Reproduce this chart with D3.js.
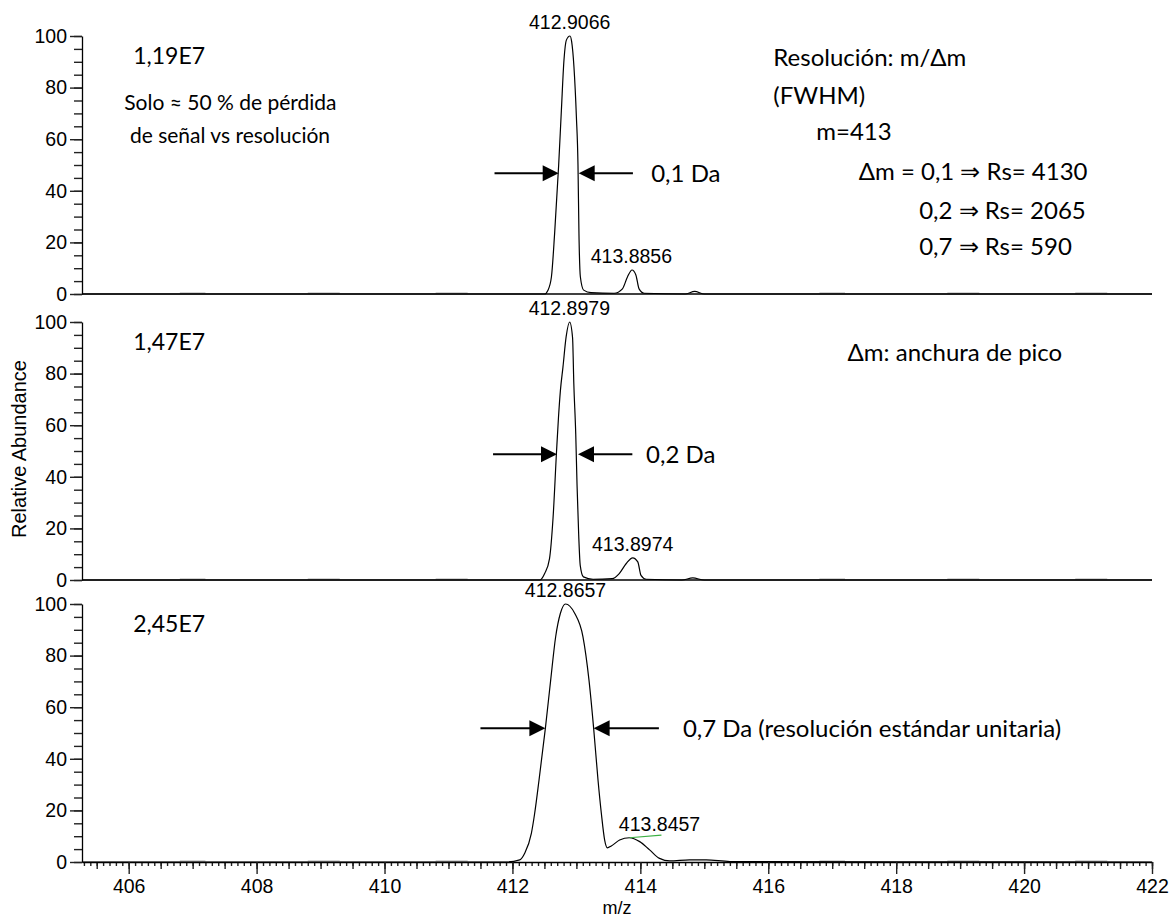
<!DOCTYPE html>
<html lang="es">
<head>
<meta charset="UTF-8">
<title>Resolución y anchura de pico</title>
<script src="https://d3js.org/d3.v7.min.js"></script>
<style>
    body { margin: 0; background: #fff; }
    svg { display: block; font-family: 'Liberation Sans', Arial, sans-serif; }
    .tick text { font-size: 19.5px; fill: #000; }
    .tick line { stroke: #222; stroke-width: 1.4; }
    .domain { stroke: #000; stroke-width: 1.3; }
    .note { font-family: Lato, 'Open Sans', sans-serif; fill: #000; }
    .peak-label { font-size: 19.5px; fill: #000; }
</style>
</head>
<body>
<div id="chart"></div>
<script>
// eje m/z
const mzDomain = [405.27, 422];
const mzTicks = [406, 408, 410, 412, 414, 416, 418, 420, 422];
const abundTicks = [0, 20, 40, 60, 80, 100];

const mzP1 = [405.27, 412.50, 412.556, 412.61, 412.66, 412.723, 412.765, 412.806, 412.843, 412.90, 412.926, 412.962, 413.0, 413.025, 413.04, 413.062, 413.114, 413.23, 413.59, 413.72, 413.80, 413.87, 413.93, 413.98, 414.06, 414.7, 414.85, 415.0, 422];
const intP1 = [0, 0, 1.5, 6.7, 23.6, 50, 71, 90.7, 98.4, 100, 97.8, 88, 68.7, 50, 23.6, 6.7, 1.5, 0.5, 0.3, 2, 6.7, 9.3, 7.4, 2, 0.3, 0, 1, 0, 0];

const mzP2 = [405.27, 412.43, 412.504, 412.58, 412.635, 412.69, 412.72, 412.75, 412.79, 412.84, 412.895, 412.94, 412.96, 412.99, 413.01, 413.036, 413.06, 413.11, 413.26, 413.56, 413.67, 413.78, 413.88, 413.96, 414.01, 414.09, 414.65, 414.82, 415.0, 422];
const intP2 = [0, 0, 2.5, 8.3, 24, 50, 63, 73.4, 82.5, 94.3, 100, 94, 76, 56.5, 37, 17.5, 5.7, 1.2, 0.3, 0.5, 2.5, 6.4, 8.6, 7, 1.8, 0.3, 0, 0.8, 0, 0];

const mzP3 = [405.27, 411.906, 412.114, 412.192, 412.296, 412.348, 412.416, 412.515, 412.598, 412.676, 412.75, 412.83, 412.973, 413.103, 413.197, 413.27, 413.338, 413.39, 413.442, 413.484, 413.546, 413.676, 413.83, 413.99, 414.145, 414.30, 414.46, 414.77, 415.03, 415.4, 422];
const intP3 = [0, 0, 0.8, 3.4, 11.1, 18.9, 31.8, 51.8, 70.5, 87.3, 96.4, 100, 96.4, 87.3, 70.5, 51.8, 31.8, 18.9, 8.5, 5.5, 6.2, 8.5, 9.4, 7.9, 4.7, 1.4, 0.4, 0.8, 0.8, 0.2, 0];

// ruido de línea base (tramos grises)
const noiseStart = [406.8, 408.8, 410.8, 416.8, 418.8, 420.8];
const noiseEnd = [407.2, 409.3, 411.3, 417.2, 419.3, 421.3];

// anotaciones
const countLabels = ["1,19E7", "1,47E7", "2,45E7"];
const peakTexts = [["412.9066", "413.8856"], ["412.8979", "413.8974"], ["412.8657", "413.8457"]];
const peakTextMz = [[412.895, 413.86], [412.89, 413.88], [412.83, 414.30]];
const peakTextInt = [[100, 9.3], [100, 8.6], [100, 9.4]];
const arrowInt = [46.8, 48.7, 51.8];
const arrowLeft = [[411.72, 412.723], [411.697, 412.697], [411.50, 412.515]];
const arrowRight = [[413.036, 413.884], [413.025, 413.875], [413.27, 414.29]];
const arrowTexts = ["0,1 Da", "0,2 Da", "0,7 Da (resolución estándar unitaria)"];
const arrowTextMz = [414.17, 414.09, 414.665];

const resTexts = ["Resolución: m/Δm", "(FWHM)", "m=413", "Δm = 0,1 ⇒ Rs= 4130", "0,2 ⇒ Rs= 2065", "0,7 ⇒ Rs= 590"];
const resMz = [416.08, 416.08, 416.75, 417.415, 418.36, 418.36];
const resInt = [88.4, 73.6, 59.7, 44.2, 29.1, 15.1];

const W = 1172, H = 920;
const panelTop = [36, 322, 604];
const panelH = 258;

const svg = d3.select("#chart").append("svg")
    .attr("width", W).attr("height", H);

const x = d3.scaleLinear().domain(mzDomain).range([82, 1152]);

const profiles = [[mzP1, intP1], [mzP2, intP2], [mzP3, intP3]];

profiles.forEach(([mz, ab], p) => {
    const y = d3.scaleLinear().domain([0, 100]).range([panelTop[p] + panelH, panelTop[p]]);
    const g = svg.append("g");

    // ruido gris
    g.selectAll(".noise").data(noiseStart).enter().append("line")
        .attr("x1", d => x(d)).attr("x2", (d, i) => x(noiseEnd[i]))
        .attr("y1", y(0.4)).attr("y2", y(0.4))
        .attr("stroke", "#b0b0b0").attr("stroke-width", 1);

    // eje y: menores cada 5, mayores cada 20
    g.append("g")
        .attr("transform", `translate(${x(mzDomain[0])},0)`)
        .call(d3.axisLeft(y).tickValues(d3.range(0, 101, 5)).tickSize(8).tickFormat(""))
        .call(a => a.select(".domain").remove());
    g.append("g")
        .attr("transform", `translate(${x(mzDomain[0])},0)`)
        .call(d3.axisLeft(y).tickValues(abundTicks).tickSize(12).tickSizeOuter(0).tickPadding(3));

    // perfil
    const line = d3.line()
        .x((d, i) => x(mz[i]))
        .y(d => y(d))
        .curve(d3.curveMonotoneX);
    g.append("path").datum(ab)
        .attr("d", line)
        .attr("fill", "none")
        .attr("stroke", "#000")
        .attr("stroke-width", 1.2);

    // eje x
    if (p < 2) {
        g.append("line")
            .attr("x1", x(mzDomain[0])).attr("x2", x(mzDomain[1]))
            .attr("y1", y(0)).attr("y2", y(0))
            .attr("stroke", "#000").attr("stroke-width", 1.3);
    } else {
        const minor = d3.range(4053, 4221).map(v => v / 10);
        const half = minor.filter(v => Math.round(v * 10) % 5 === 0);
        g.append("g")
            .attr("transform", `translate(0,${y(0)})`)
            .call(d3.axisBottom(x).tickValues(minor).tickSize(4).tickFormat(""))
            .call(a => a.select(".domain").remove());
        g.append("g")
            .attr("transform", `translate(0,${y(0)})`)
            .call(d3.axisBottom(x).tickValues(half).tickSize(7).tickFormat(""))
            .call(a => a.select(".domain").remove());
        g.append("g")
            .attr("transform", `translate(0,${y(0)})`)
            .call(d3.axisBottom(x).tickValues(mzTicks).tickSize(12).tickSizeOuter(0).tickPadding(5).tickFormat(d3.format("d")));
    }

    // etiquetas de picos
    peakTexts[p].forEach((t, k) => {
        g.append("text").attr("class", "peak-label")
            .attr("x", x(peakTextMz[p][k]))
            .attr("y", y(peakTextInt[p][k]) - 7)
            .attr("text-anchor", "middle")
            .text(t);
    });
    if (p === 2) {
        // subrayado verde del corrector
        g.append("line")
            .attr("x1", x(413.83)).attr("x2", x(414.33))
            .attr("y1", y(9.4)).attr("y2", y(10.4))
            .attr("stroke", "#3cb043").attr("stroke-width", 1.2);
    }

    // intensidad absoluta
    g.append("text").attr("class", "note")
        .attr("x", x(406.07))
        .attr("y", y(89))
        .style("font-size", "23px")
        .text(countLabels[p]);

    // flechas FWHM
    const ay = y(arrowInt[p]);
    const head = (tip, dir) => `M${tip},${ay} L${tip - dir * 16},${ay - 8} L${tip - dir * 16},${ay + 8} Z`;
    g.append("line")
        .attr("x1", x(arrowLeft[p][0])).attr("x2", x(arrowLeft[p][1]) - 14)
        .attr("y1", ay).attr("y2", ay)
        .attr("stroke", "#000").attr("stroke-width", 2);
    g.append("path").attr("d", head(x(arrowLeft[p][1]), 1)).attr("fill", "#000");
    g.append("line")
        .attr("x1", x(arrowRight[p][0]) + 14).attr("x2", x(arrowRight[p][1]))
        .attr("y1", ay).attr("y2", ay)
        .attr("stroke", "#000").attr("stroke-width", 2);
    g.append("path").attr("d", head(x(arrowRight[p][0]), -1)).attr("fill", "#000");
    g.append("text").attr("class", "note")
        .attr("x", x(arrowTextMz[p]))
        .attr("y", ay).attr("dy", "0.36em")
        .style("font-size", "24px")
        .text(arrowTexts[p]);

    if (p === 0) {
        g.append("text").attr("class", "note")
            .attr("x", x(405.93)).attr("y", y(71.3))
            .style("font-size", "21px")
            .text("Solo ≈ 50 % de pérdida");
        g.append("text").attr("class", "note")
            .attr("x", x(406.02)).attr("y", y(58.5))
            .style("font-size", "21px")
            .text("de señal vs resolución");
        resTexts.forEach((t, k) => {
            g.append("text").attr("class", "note")
                .attr("x", x(resMz[k])).attr("y", y(resInt[k]))
                .style("font-size", "24px")
                .text(t);
        });
    }
    if (p === 1) {
        g.append("text").attr("class", "note")
            .attr("x", x(417.24)).attr("y", y(84.8))
            .style("font-size", "24px")
            .text("Δm: anchura de pico");
    }
});

// títulos de ejes
svg.append("text")
    .attr("transform", `translate(26,${(panelTop[0] + panelTop[2] + panelH) / 2}) rotate(-90)`)
    .attr("text-anchor", "middle")
    .style("font-size", "20px")
    .text("Relative Abundance");

svg.append("text")
    .attr("x", (x.range()[0] + x.range()[1]) / 2)
    .attr("y", 914)
    .attr("text-anchor", "middle")
    .style("font-size", "18px")
    .text("m/z");
</script>
</body>
</html>
